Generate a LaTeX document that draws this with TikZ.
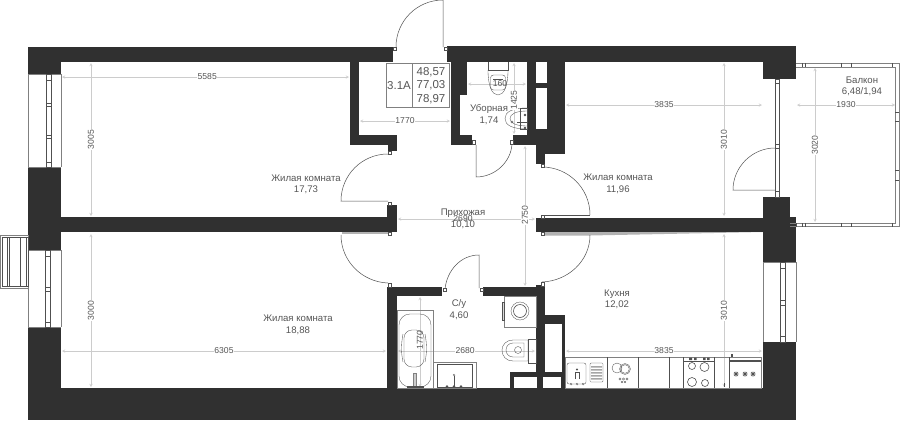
\documentclass[tikz,border=0pt]{standalone}
\usepackage{fontspec}
\setmainfont{Liberation Sans}
\definecolor{wallgray}{HTML}{303030}
\definecolor{edgegray}{HTML}{808080}
\definecolor{dimgray}{HTML}{CCCCCC}
\definecolor{textgray}{HTML}{555555}
\definecolor{linegray}{HTML}{505050}
\begin{document}
\begin{tikzpicture}[
            x = 1pt, y = -1pt,
            > = stealth, % arrow head style
            wall/.style = {fill=wallgray},
            fixture/.style = {draw=linegray, line width=0.35pt},
            softline/.style = {draw=edgegray, line width=0.55pt},
            jamb/.style = {draw=linegray, fill=white, line width=0.35pt},
            doorleaf/.style = {draw=linegray, line width=0.5pt},
            dimline/.style = {draw=dimgray, line width=0.45pt, <->, >=stealth},
            dimtext/.style = {fill=white, inner sep=0.6pt, text=textgray, font=\fontsize{8.6}{10}\selectfont},
            roomtext/.style = {text=textgray, align=center, inner sep=0pt, font=\fontsize{9.6}{11.6}\selectfont},
            areatext/.style = {text=textgray, inner sep=0pt, font=\fontsize{11.5}{13}\selectfont}
        ]
\useasboundingbox (0,0) rectangle (900,421);

% dimensions
\draw[dimline] (62,77) -- node[dimtext, pos=0.506] (dimA) {5585} (349,77);
\draw[dimline] (91,63) -- node[dimtext, rotate=90] (dimB) {3005} (91,216);
\draw[dimline] (360,121) -- node[dimtext] (dimC) {1770} (450,121);
\draw[dimline] (468,84) -- (526,84);
\draw[dimline] (514,63) -- (514,134);
\draw[dimline] (525,146) -- (525,286);
\draw[dimline] (566,105) -- node[dimtext] (dimD) {3835} (762,105);
\draw[dimline] (724,63) -- node[dimtext, rotate=90] (dimE) {3010} (724,216);
\draw[dimline] (797,105) -- node[dimtext] (dimF) {1930} (895,105);
\draw[dimline] (815,68) -- node[dimtext, rotate=90] (dimG) {3020} (815,222);
\draw[dimline] (398,219) -- (535,219);
\draw[dimline] (91,234) -- node[dimtext, rotate=90] (dimH) {3000} (91,387);
\draw[dimline] (62,351) -- node[dimtext, pos=0.5] (dimI) {6305} (386,351);
\draw[dimline] (420,297) -- (420,387);
\draw[dimline] (398,351) -- node[dimtext, pos=0.49] (dimJ) {2680} (535,351);
\draw[dimline] (566,351) -- node[dimtext] (dimK) {3835} (762,351);
\draw[dimline] (724,234) -- node[dimtext, rotate=90] (dimL) {3010} (724,387);

% walls
\fill[wall] (28,47) rectangle (393,62);
\fill[wall] (28,47) rectangle (61,74);
\fill[wall] (28,167) rectangle (61,250);
\fill[wall] (28,217) rectangle (397,232);
\fill[wall] (387,205) rectangle (397,232);
\fill[wall] (350,62) rectangle (359,145);
\fill[wall] (350,135) rectangle (397,145);
\fill[wall] (388,145) rectangle (397,151);
\fill[wall] (28,327) rectangle (61,388);
\fill[wall] (28,388) rectangle (796,420);
\fill[wall] (447,46) rectangle (796,62);
\fill[wall] (763,46) rectangle (796,79);
\fill[wall] (451,62) rectangle (467,95);
\fill[wall] (451,95) rectangle (460,135);
\fill[wall] (451,135) rectangle (472,145);
\fill[wall] (527,62) rectangle (565,135);
\fill[wall] (513,135) rectangle (565,145);
\fill[wall] (536,145) rectangle (565,154);
\fill[wall] (536,154) rectangle (545,164);
\fill[white] (536,62) rectangle (547,83);
\fill[white] (536,88) rectangle (547,129);
\fill[wall] (536,218) rectangle (763,232);
\fill[wall] (763,197) rectangle (790,222);
\fill[wall] (763,217) rectangle (796,262);
\fill[wall] (763,342) rectangle (796,388);
\fill[wall] (387,287) rectangle (397,388);
\fill[wall] (387,287) rectangle (442,296);
\fill[wall] (483,287) rectangle (545,296);
\fill[wall] (536,285) rectangle (545,372);
\fill[wall] (536,315) rectangle (565,324);
\fill[wall] (562,315) rectangle (565,388);
\fill[wall] (510,372) rectangle (562,388);
\fill[white] (514,377) rectangle (537,388);
\fill[white] (543,377) rectangle (561,388);

% strips beside the middle wall
\fill[gray!60] (342,232) rectangle (388,234);
\fill[gray!60] (544,232) -- (763,232) -- (590,235.5) -- (544,235.5) -- cycle;
\draw[doorleaf] (544,215.5) -- (590,215.5);

% window openings
\draw[softline] (28,74) -- (28,167) (61,74) -- (61,167) (28,74) -- (61,74) (28,167) -- (61,167);
\draw[softline] (28,250) -- (28,327) (61,250) -- (61,327) (28,250) -- (61,250) (28,327) -- (61,327);
\draw[softline] (763,262) -- (763,342) (796,262) -- (796,342) (763,262) -- (796,262);
\draw[fixture] (46,74) rectangle (51.5,167);
\draw[fixture] (46,80) -- (51.5,80) (46,103) -- (51.5,103) (46,106) -- (51.5,106) (46,135) -- (51.5,135) (46,138) -- (51.5,138) (46,162) -- (51.5,162);
\draw[fixture] (45.5,250) rectangle (50.5,327);
\draw[fixture] (45.5,256) -- (50.5,256) (45.5,287) -- (50.5,287) (45.5,291) -- (50.5,291) (45.5,322) -- (50.5,322);
\draw[fixture] (780,262) rectangle (785,342);
\draw[fixture] (780,268) -- (785,268) (780,300) -- (785,300) (780,305) -- (785,305) (780,336) -- (785,336);

% balcony on the left front
\draw[softline] (0.5,235) rectangle (28,288);
\draw[fixture] (2.5,237.5) rectangle (28,286);
\draw[fixture] (7,238) -- (7,285.5) (9,238) -- (9,285.5) (20,238) -- (20,285.5) (26,238) -- (26,285.5);

% balcony
\draw[softline] (796,63) -- (899,63) -- (899,226.5) -- (790,226.5);
\draw[softline] (796,67) -- (895,67) -- (895,223) -- (790,223);
\draw[fixture] (802,63) -- (802,67) (805,63) -- (805,67) (841,63) -- (841,67) (851,63) -- (851,67) (892,63) -- (892,67);
\draw[fixture] (796,223) -- (796,226.5) (802,223) -- (802,226.5) (805,223) -- (805,226.5) (841,223) -- (841,226.5) (851,223) -- (851,226.5) (892,223) -- (892,226.5);
\draw[fixture] (895,112) -- (899,112) (895,121) -- (899,121) (895,170) -- (899,170) (895,180) -- (899,180);
\draw[fixture] (775,79) rectangle (779,197);
\draw[jamb] (775,79) rectangle (779,83);
\draw[jamb] (775,144) rectangle (779,148);
\draw[jamb] (775,191) rectangle (779,197);

% doors
\draw[doorleaf] (443,47) -- (443,0) .. controls (417,0) and (396,21) .. (396,47);
\draw[doorleaf] (388,201) -- (341,201) .. controls (341,175) and (362,154) .. (388,154);
\draw[doorleaf] (341,235) .. controls (341,261) and (362,282) .. (388,283);
\draw[doorleaf] (476,145) -- (476,177) .. controls (495,177) and (511,162) .. (512,144);
\draw[doorleaf] (542,167) .. controls (568,167) and (590,188) .. (590,215);
\draw[doorleaf] (590,235) .. controls (590,261) and (568,281) .. (542,282);
\draw[doorleaf] (445,289) .. controls (447,270) and (461,255) .. (479,255) -- (479,288);
\draw[doorleaf] (775,148) .. controls (752,148) and (733,167) .. (733,190) -- (775,190);

\draw[jamb] (393,47) rectangle (396,50);
\draw[jamb] (444,47) rectangle (447,50);
\draw[jamb] (388,151) rectangle (391,154);
\draw[jamb] (388,202) rectangle (391,205);
\draw[jamb] (388,232) rectangle (391,235);
\draw[jamb] (388,283) rectangle (391,287);
\draw[jamb] (472,140) rectangle (475,144);
\draw[jamb] (510,140) rectangle (513,144);
\draw[jamb] (541,164) rectangle (544,167);
\draw[jamb] (541,215) rectangle (544,218);
\draw[jamb] (541,232) rectangle (544,235);
\draw[jamb] (541,282) rectangle (544,286);
\draw[jamb] (443,288) rectangle (446,291);
\draw[jamb] (480,288) rectangle (483,291);

% area table
\draw[softline] (386,63) rectangle (449,107);
\draw[softline] (412,63) -- (412,107);
\node[areatext] (flatname) at (399,85.5) {3.1А};
\node[areatext] (areaA) at (431,72) {48,57};
\node[areatext] (areaB) at (431,85.5) {77,03};
\node[areatext] (areaC) at (431,99) {78,97};

% toilet in the small room
\draw[fixture] (488,62) -- (488,70) -- (508,70) -- (508,62);
\draw[fixture] (488,70) .. controls (488,86) and (492,95) .. (498,95) .. controls (504,95) and (508,86) .. (508,70);
\draw[fixture, rounded corners=3pt] (490.5,75) rectangle (505.5,90);
\draw[fixture] (493,79) -- (503,79);

% wash basin in the small room
\draw[fixture] (527,108) .. controls (512,108) and (505,112) .. (505,118.5) .. controls (505,125) and (512,129) .. (527,129);
\draw[fixture] (527,111) .. controls (516,111) and (510,114) .. (510,118.5) .. controls (510,123) and (516,126) .. (527,126);
\draw[fixture] (520,108) rectangle (527,129);
\draw[fixture] (512,122) circle (1.2);
\draw[fixture, line width=0.8pt] (517,122) -- (527,122);
\fill[linegray] (525,115) circle (1.3);
\fill[linegray] (525,128) circle (1.3);

% bath
\draw[softline] (397,310) rectangle (433,388);
\draw[fixture, rounded corners=11pt] (399,314) rectangle (431,387);
\draw[fixture, rounded corners=8pt] (404,330) rectangle (424,367);
\draw[fixture] (403,334) .. controls (401,345) and (401,352) .. (403,362);
\draw[fixture] (425,334) .. controls (427,345) and (427,352) .. (425,362);
\draw[softline, fill=gray!40] (413.5,373) rectangle (416.5,386);
\fill[linegray] (407,386) rectangle (424,388);

% sink counter
\draw[softline] (433,362) rectangle (476,388);
\draw[fixture] (437,364) rectangle (472,387);
\draw[fixture] (454,376) -- (454,386);
\draw[fixture] (454,375) circle (1);
\fill[linegray] (447,386.5) circle (1.3);
\fill[linegray] (454,386.5) circle (1.3);
\fill[linegray] (461,386.5) circle (1.3);

% washer
\draw[softline] (504,296) rectangle (536,327);
\draw[fixture, fill=gray!30] (502,302) rectangle (504,320);
\draw[fixture] (520,311) circle (9);
\draw[fixture, line width=0.6pt] (520,311) circle (6.5);

% toilet in the bathroom
\draw[fixture] (528,339) rectangle (536,363);
\draw[fixture] (528,340) -- (513,340) .. controls (506,340) and (502,345) .. (502,350) .. controls (502,356) and (506,361) .. (513,361) -- (528,361) -- cycle;
\draw[fixture] (524,343) -- (513,343) .. controls (509,343) and (506,346) .. (506,350) .. controls (506,354) and (509,357) .. (513,357) -- (524,357) -- cycle;
\draw[fixture] (518,350) circle (3.5);

% kitchen
\draw[softline] (565,357) rectangle (761,388);
\draw[fixture] (607,357) -- (607,388) (638,357) -- (638,388) (669,357) -- (669,388) (683,357) -- (683,388) (714,357) -- (714,388) (729,357) -- (729,388);
\draw[fixture, rounded corners=2pt] (567,363) rectangle (586,384);
\draw[fixture] (575,379) -- (575,372) -- (579,372) -- (579,379);
\fill[linegray] (577,369.5) circle (1.2);
\draw[fixture] (571,384) circle (1) (577,384) circle (1) (583,384) circle (1);
\draw[fixture, rounded corners=1pt] (590,363) rectangle (603,382);
\fill[gray!70] (591,366) rectangle (602,367.5) (591,369) rectangle (602,370.5) (591,372) rectangle (602,373.5) (591,375) rectangle (602,376.5) (591,378) rectangle (602,379.5);
\draw[fixture] (617,368) circle (5);
\draw[fixture] (625,369) circle (5.5) (625,369) circle (4.3);
\draw[fixture] (620,379) circle (1.2) (623.5,379) circle (1.2) (627,379) circle (1.2) (622,382) circle (0.8) (625,382) circle (0.8);
\draw[fixture] (683,361) -- (714,361);
\fill[linegray] (689,357.5) rectangle (692,360) (694,357.5) rectangle (696.5,360) (703,357.5) rectangle (705.5,360) (707,357.5) rectangle (709.5,360);
\draw[fixture, line width=0.6pt] (692,366) circle (3.5) (704.5,367) circle (4.5) (692,382) circle (4.5) (705,383) circle (3.5);
\draw[fixture, line width=0.7pt] (724,383) -- (724,387);
\draw[fixture] (729,360) -- (761,360) (729,361.5) -- (761,361.5);
\fill[linegray] (731,354) rectangle (733,357);
\foreach \starx in {736,745,753} {
    \draw[fixture, line width=0.6pt] (\starx-2.5,374) -- (\starx+2.5,374) (\starx,371.5) -- (\starx,376.5) (\starx-2,372) -- (\starx+2,376) (\starx-2,376) -- (\starx+2,372);
}

% room names
\node[roomtext] (room1) at (306,184.5) {Жилая комната\\17,73};
\node[roomtext] (room2) at (298,325) {Жилая комната\\18,88};
\node[roomtext] (room3) at (618,184) {Жилая комната\\11,96};
\node[roomtext] (hall) at (463,219) {Прихожая\\10,10};
\node[roomtext] (wc) at (459,309.5) {С/у\\4,60};
\node[roomtext] (kitchen) at (617,299.5) {Кухня\\12,02};
\node[roomtext] (balcony) at (862,86.5) {Балкон\\6,48/1,94};
\node[roomtext] (toilet) at (489,114.5) {Уборная\\1,74};

% dimension texts that sit on top of other things
\node[text=textgray, inner sep=0pt, font=\fontsize{8.6}{10}\selectfont] (dimM) at (500,84) {160};
\node[dimtext, rotate=90] (dimN) at (514,100) {1425};
\node[dimtext, rotate=90] (dimO) at (525,215) {2750};
\node[text=textgray, inner sep=0pt, font=\fontsize{8.6}{10}\selectfont] (dimP) at (463,219) {2690};
\node[text=textgray, inner sep=0pt, rotate=90, font=\fontsize{8.6}{10}\selectfont] (dimQ) at (420,340) {1770};
\end{tikzpicture}
\end{document}
